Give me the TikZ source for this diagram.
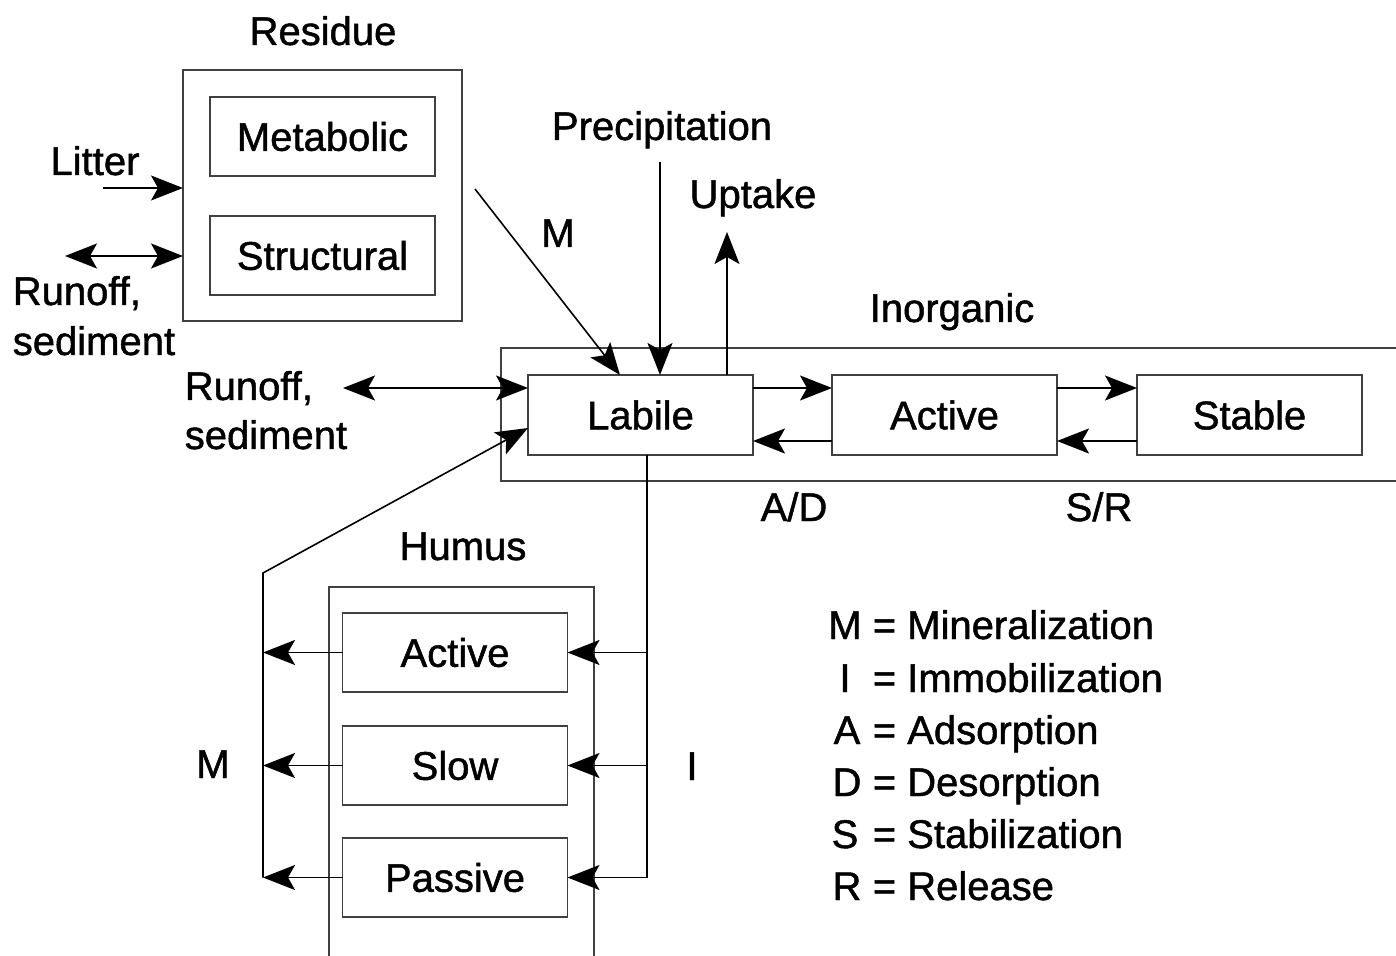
\documentclass[tikz,border=0pt]{standalone}
\usepackage{fontspec}
\setmainfont{Liberation Sans}[FakeBold=1.2]
\usetikzlibrary{arrows.meta}

\tikzstyle{pool}=[rectangle,draw=black!75,line width=0.8pt,inner sep=0pt,outer sep=0pt,minimum width=112.5pt,minimum height=39.5pt]
\tikzstyle{frame}=[draw=black!75,line width=0.8pt]
\tikzstyle{lbl}=[anchor=base,inner sep=0pt]
\tikzstyle{arr}=[-{Stealth[length=16pt,width=12.5pt,inset=3.5pt]}]
\tikzstyle{darr}=[{Stealth[length=16pt,width=12.5pt,inset=3.5pt]}-{Stealth[length=16pt,width=12.5pt,inset=3.5pt]}]

\begin{document}
\begin{tikzpicture}[x=0.5pt,y=-0.5pt,line width=0.8pt,font=\fontsize{20}{24}\selectfont]
\useasboundingbox (0,0) rectangle (1396,956);
%\draw[help lines,step=50] (0,0) grid (1396,956);

% residue
\node[pool,minimum width=139.5pt,minimum height=125.5pt] (res) at (322.5,195.5) {};
\node[pool] (met) at (322.5,136.5) {Metabolic};
\node[pool] (str) at (322.5,255.5) {Structural};
\node[lbl] (reslbl) at (323,45) {Residue};

% inorganic
\draw[frame] (1396,348) -- (501,348) -- (501,481) -- (1396,481);
\node[pool,minimum height=40pt] (lab) at (640.5,415) {Labile};
\node[pool,minimum height=40pt] (iact) at (944.5,415) {Active};
\node[pool,minimum height=40pt] (stab) at (1249.5,415) {Stable};
\node[lbl] (inolbl) at (952,322) {Inorganic};
\node[lbl] (ad) at (794,521) {A/D};
\node[lbl] (sr) at (1099,521) {S/R};

% humus
\draw[frame] (329,956) -- (329,587) -- (594,587) -- (594,956);
\node[pool] (hact) at (455,652.5) {Active};
\node[pool] (hslo) at (455,765.5) {Slow};
\node[pool] (hpas) at (455,877.5) {Passive};
\node[lbl] (humlbl) at (463,560) {Humus};

% outside labels
\node[lbl] (litlbl) at (95,175) {Litter};
\node[lbl,anchor=base west] (ro1a) at (12,305) {Runoff,};
\node[lbl,anchor=base west] (ro1b) at (12,355) {sediment};
\node[lbl,anchor=base west] (ro2a) at (184,400) {Runoff,};
\node[lbl,anchor=base west] (ro2b) at (184,449) {sediment};
\node[lbl] (prelbl) at (662,140) {Precipitation};
\node[lbl] (uplbl) at (753,208) {Uptake};
\node[lbl] (mtop) at (558,247) {M};
\node[lbl] (mleft) at (213,778) {M};
\node[lbl] (ilbl) at (692,780) {I};

\coordinate (lit) at (103,188);
\coordinate (ro1) at (65,256);
\coordinate (ro2) at (343,388);
\coordinate (min) at (475,189);
\coordinate (pre) at (660,162);
\coordinate (upt) at (727,232);
\coordinate (ibus) at (647,877.5);
\coordinate (mbus) at (263,877.5);
\coordinate (mknee) at (263,573);

\path[arr]
(lit) edge (lit -| res.west)
(min) edge ([xshift=-10.25pt]lab.north)
(pre) edge (lab.north -| pre)
(lab.north -| upt) edge (upt)
([yshift=13.5pt]lab.east) edge ([yshift=13.5pt]iact.west)
([yshift=-13pt]iact.west) edge ([yshift=-13pt]lab.east)
([yshift=13.5pt]iact.east) edge ([yshift=13.5pt]stab.west)
([yshift=-13pt]stab.west) edge ([yshift=-13pt]iact.east)
(ibus |- hact) edge (hact.east)
(ibus |- hslo) edge (hslo.east)
(ibus) edge (hpas.east)
(hact.west) edge (mbus |- hact)
(hslo.west) edge (mbus |- hslo)
(hpas.west) edge (mbus);
\path[darr]
(ro1) edge (ro1 -| res.west)
(ro2) edge (ro2 -| lab.west);
\draw (lab.south -| ibus) -- (ibus);
\draw[arr] (mbus) -- (mknee) -- ([yshift=-6.5pt]lab.west);

% legend
\node[lbl] (k1) at (845,639) {M};
\node[lbl] (k2) at (845,692) {I};
\node[lbl] (k3) at (847,744) {A};
\node[lbl] (k4) at (847,796) {D};
\node[lbl] (k5) at (845,848) {S};
\node[lbl] (k6) at (847,900) {R};
\node[lbl,anchor=base west] (v1) at (872,639) {= Mineralization};
\node[lbl,anchor=base west] (v2) at (872,692) {= Immobilization};
\node[lbl,anchor=base west] (v3) at (872,744) {= Adsorption};
\node[lbl,anchor=base west] (v4) at (872,796) {= Desorption};
\node[lbl,anchor=base west] (v5) at (872,848) {= Stabilization};
\node[lbl,anchor=base west] (v6) at (872,900) {= Release};
\end{tikzpicture}
\end{document}
